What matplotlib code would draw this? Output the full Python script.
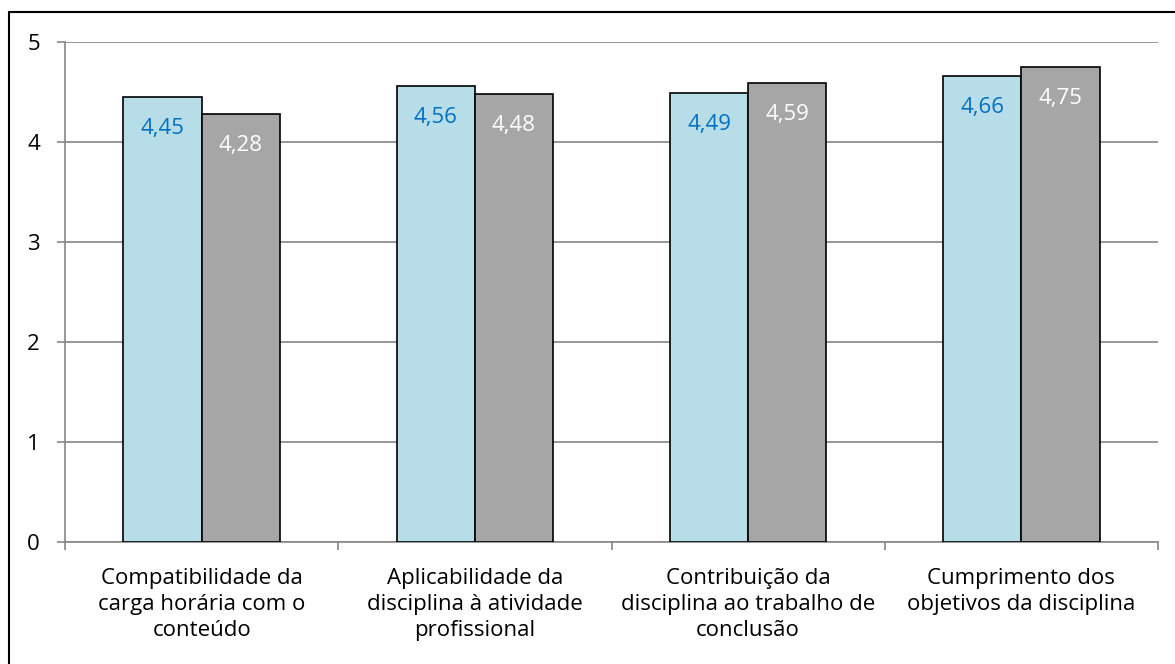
import matplotlib.pyplot as plt
import numpy as np
from matplotlib.patches import Rectangle

categories = ['Compatibilidade da\ncarga horária com o\nconteúdo',
              'Aplicabilidade da\ndisciplina à atividade\nprofissional',
              'Contribuição da\ndisciplina ao trabalho de\nconclusão',
              'Cumprimento dos\nobjetivos da disciplina']
serie_a = [4.45, 4.56, 4.49, 4.66]
serie_b = [4.28, 4.48, 4.59, 4.75]
yticks = [0, 1, 2, 3, 4, 5]

W, H, dpi = 1175, 664, 100
plt.rcParams['font.family'] = ['Open Sans', 'DejaVu Sans']
fig = plt.figure(figsize=(W / dpi, H / dpi), dpi=dpi)

# outer frame (right and bottom edges fall outside the picture)
fig.patches.append(Rectangle((9 / W, 0 - 0.1), 1.2, 1 - 12 / H + 0.1, transform=fig.transFigure,
                             fill=False, edgecolor='black', linewidth=1.5))

ax = fig.add_axes([65 / W, 1 - 542 / H, (1158 - 65) / W, (542 - 42) / H])
x = np.arange(len(categories))
bw = 0.286
ba = ax.bar(x - bw / 2, serie_a, bw, color='#B7DDE8', edgecolor='black', linewidth=1.2, zorder=3)
bb = ax.bar(x + bw / 2, serie_b, bw, color='#A6A6A6', edgecolor='black', linewidth=1.2, zorder=3)

for rects, vals, col in [(ba, serie_a, '#0070C0'), (bb, serie_b, 'white')]:
    for r, v in zip(rects, vals):
        ax.annotate(f'{v:.2f}'.replace('.', ','), (r.get_x() + r.get_width() / 2, v),
                    xytext=(0, -22.5), textcoords='offset points', ha='center', va='center',
                    color=col, fontsize=16, zorder=4)

ax.set_xlim(-0.5, len(categories) - 0.5)
ax.set_ylim(0, 5)
ax.set_yticks(yticks)
ax.set_yticklabels([str(t) for t in yticks], fontsize=16)
ax.yaxis.grid(True, color='#868686', linewidth=1.2, zorder=0)
ax.set_xticks(x)
ax.set_xticklabels(categories, fontsize=16, linespacing=1.3)
ax.tick_params(axis='x', length=0, pad=19)
ax.set_xticks(np.arange(len(categories) + 1) - 0.5, minor=True)
ax.tick_params(axis='x', which='minor', length=6, color='#868686', width=1.2)
ax.tick_params(axis='y', length=6, color='#868686', width=1.2, pad=12)
for s in ['top', 'right']:
    ax.spines[s].set_visible(False)
for s in ['left', 'bottom']:
    ax.spines[s].set_color('#868686')
    ax.spines[s].set_linewidth(1.2)

fig.savefig('out.png', dpi=dpi)
